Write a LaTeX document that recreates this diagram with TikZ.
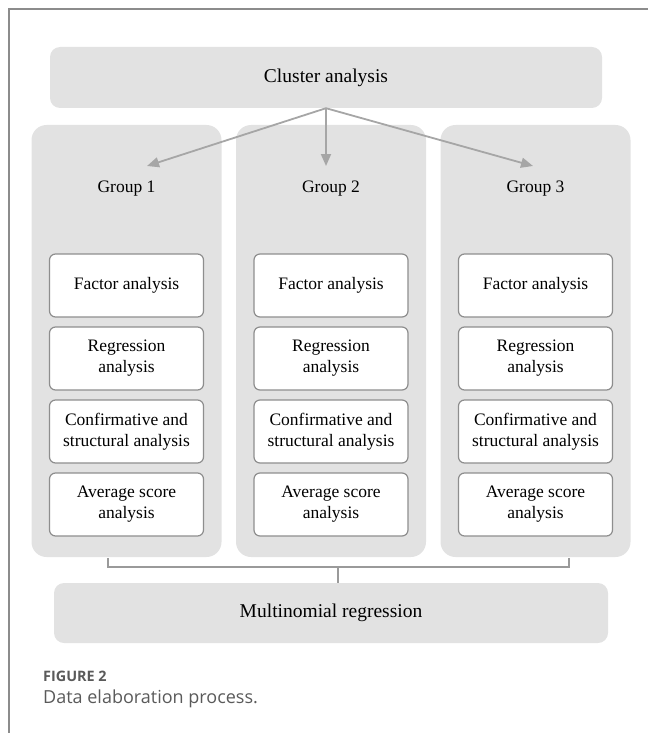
\documentclass[tikz,border=0pt]{standalone}
\usepackage{fontspec}
\setmainfont{Liberation Serif}
\newfontfamily\capfont{Open Sans}
\usetikzlibrary{arrows.meta}
\definecolor{panelgray}{HTML}{E2E2E2}
\definecolor{boxline}{HTML}{8E8E8E}
\definecolor{arrowgray}{HTML}{A6A6A6}
\definecolor{bracegray}{HTML}{9A9A9A}
\definecolor{framegray}{HTML}{8C8C8C}
\definecolor{capgray}{HTML}{5A5A5A}
\begin{document}
\begin{tikzpicture}[x=1pt,y=-1pt,>={Triangle[length=12pt,width=10pt]},
  panel/.style={fill=panelgray,rounded corners=15pt,minimum width=190pt,minimum height=432pt,inner sep=0pt},
  wide/.style={fill=panelgray,rounded corners=10pt,minimum height=61pt,inner sep=0pt,font=\fontsize{19.5}{23}\selectfont},
  task/.style={draw=boxline,fill=white,line width=1.2pt,rounded corners=6pt,minimum width=154pt,minimum height=63pt,inner sep=0pt,align=center,font=\fontsize{17.5}{21}\selectfont},
  link/.style={->,arrowgray,line width=1.8pt},
  brace/.style={bracegray,line width=2pt}]
  \useasboundingbox (0,0) rectangle (648,733);
  \draw[framegray,line width=1.5pt] (9,733) -- (9,9) -- (648,9);
  \node[wide,minimum width=552pt] (cluster) at (326,77.5) {Cluster analysis};
  \foreach \c/\x/\tx in {1/126.5/147,2/331/326,3/535.5/533}{
    \node[panel] (g\c) at (\x,341) {};
    \node[font=\fontsize{17.5}{20}\selectfont] (lab\c) at (\x,189) {Group \c};
    \node[task] (fa\c) at (\x,285.5) {Factor analysis};
    \node[task] (ra\c) at (\x,358.5) {Regression\\analysis};
    \node[task] (ca\c) at (\x,431.5) {Confirmative and\\structural analysis};
    \node[task] (as\c) at (\x,504.5) {Average score\\analysis};
    \coordinate (tip\c) at (\tx,166);
  }
  \foreach \c in {1,2,3}
    \draw[link] (cluster.south) -- (tip\c);
  \node[wide,minimum width=554pt,minimum height=60pt] (multi) at (331,613) {Multinomial regression};
  \coordinate (bl) at (108,558);
  \coordinate (br) at (569,558);
  \coordinate (mid) at (338,567);
  \draw[brace] (bl) -- ++(0,9) -| (br);
  \draw[brace] (mid) -- (mid |- multi.north);
  \node[anchor=west,inner sep=0pt,text=capgray,font=\capfont\bfseries\fontsize{14.4}{16}\selectfont] (fig) at (43,676) {FIGURE 2};
  \node[anchor=west,inner sep=0pt,text=capgray,font=\capfont\fontsize{18}{21}\selectfont] (cap) at (43,699) {Data elaboration process.};
\end{tikzpicture}
\end{document}
